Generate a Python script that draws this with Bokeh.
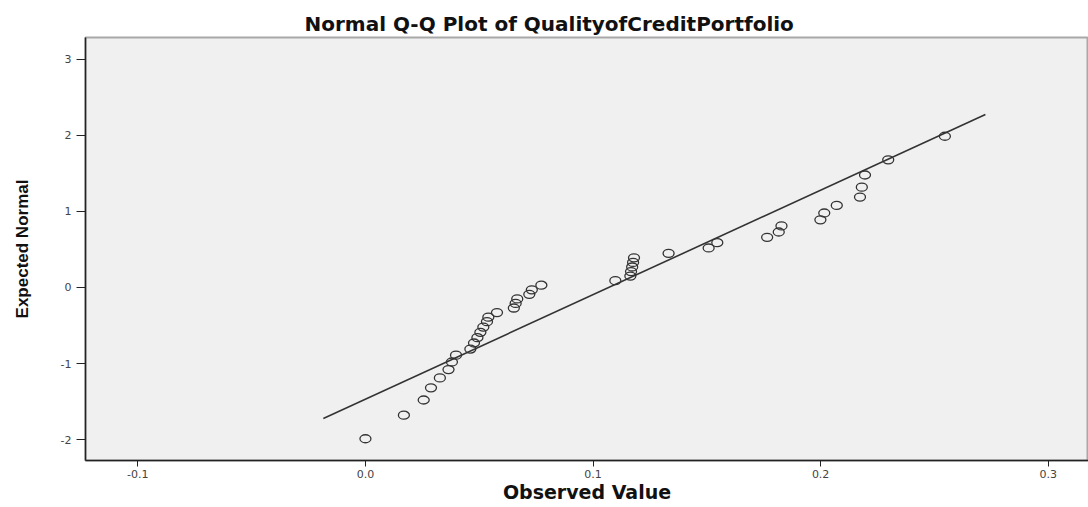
from bokeh.plotting import figure
from bokeh.models import Range1d, FixedTicker, Title
from bokeh.embed import file_html
from bokeh.resources import INLINE

observed = [0.000, 0.0169, 0.0256, 0.0288, 0.0327, 0.0365, 0.0380, 0.0398,
            0.0461, 0.0477, 0.0492, 0.0505, 0.0518, 0.0534, 0.0540, 0.0578,
            0.0652, 0.0660, 0.0667, 0.0720, 0.0731, 0.0773, 0.1098, 0.1164,
            0.1167, 0.1172, 0.1176, 0.1180, 0.1332, 0.1508, 0.1546, 0.1765,
            0.1816, 0.1828, 0.1999, 0.2016, 0.2071, 0.2173, 0.2181, 0.2195,
            0.2297, 0.2546]
expected = [-1.99, -1.68, -1.48, -1.32, -1.19, -1.08, -0.98, -0.89,
            -0.81, -0.73, -0.66, -0.59, -0.52, -0.45, -0.39, -0.33,
            -0.27, -0.21, -0.15, -0.09, -0.03, 0.03, 0.09, 0.15,
            0.21, 0.27, 0.33, 0.39, 0.45, 0.52, 0.59, 0.66,
            0.73, 0.81, 0.89, 0.98, 1.08, 1.19, 1.32, 1.48,
            1.68, 1.99]

# Reference line endpoints
line_x = [-0.0185, 0.2724]
line_y = [-1.724, 2.276]

x_ticks = [-0.1, 0.0, 0.1, 0.2, 0.3]
x_tick_labels = ["-0.1", "0.0", "0.1", "0.2", "0.3"]
y_ticks = [-2, -1, 0, 1, 2, 3]
y_tick_labels = ["-2", "-1", "0", "1", "2", "3"]

title_text = "Normal Q-Q Plot of QualityofCreditPortfolio"
x_title = "Observed Value"
y_title = "Expected Normal"

p = figure(width=1088, height=507, output_backend="svg", toolbar_location=None,
           x_range=Range1d(-0.1230, 0.3177), y_range=Range1d(-2.276, 3.289),
           min_border_left=85, min_border_right=0, min_border_top=37,
           min_border_bottom=47)

p.background_fill_color = "#f0f0f0"
p.border_fill_color = "white"
p.outline_line_color = "#a8a8a8"
p.outline_line_width = 2
p.grid.visible = False

# title
p.title = Title(text=title_text, align="left", offset=219, standoff=4,
                text_font="DejaVu Sans", text_font_style="bold",
                text_font_size="20px", text_color="#111111")

# axes
p.xaxis.ticker = FixedTicker(ticks=x_ticks)
p.xaxis.major_label_overrides = {t: l for t, l in zip(x_ticks, x_tick_labels)}
p.yaxis.ticker = FixedTicker(ticks=y_ticks)
p.yaxis.major_label_overrides = {t: l for t, l in zip(y_ticks, y_tick_labels)}
for ax in (p.xaxis, p.yaxis):
    ax.axis_line_color = "#222222"
    ax.axis_line_width = 1.5
    ax.major_tick_line_color = "#222222"
    ax.major_tick_line_width = 1
    ax.minor_tick_line_color = None
    ax.major_tick_in = 0
    ax.major_label_text_font = "DejaVu Sans"
    ax.major_label_text_font_size = "11px"
    ax.major_label_text_color = "#444444"
    ax.axis_label_text_color = "#111111"
    ax.axis_label_text_font_style = "bold"
p.xaxis.major_tick_out = 6
p.xaxis.major_label_standoff = 3
p.yaxis.major_tick_out = 9
p.yaxis.major_label_standoff = 5

p.xaxis.axis_label = x_title
p.xaxis.axis_label_text_font = "DejaVu Sans"
p.xaxis.axis_label_text_font_size = "19px"
p.xaxis.axis_label_standoff = 0

p.yaxis.axis_label = y_title
p.yaxis.axis_label_text_font = "Liberation Sans"
p.yaxis.axis_label_text_font_size = "17px"
p.yaxis.axis_label_standoff = 26

# reference line
p.line(line_x, line_y, line_color="#333333", line_width=1.6)

# points
p.ellipse(x=observed, y=expected, width=11, height=8,
          width_units="screen", height_units="screen",
          fill_color=None, line_color="#333333", line_width=1.3)

open("out.html", "w").write(file_html(p, INLINE))
